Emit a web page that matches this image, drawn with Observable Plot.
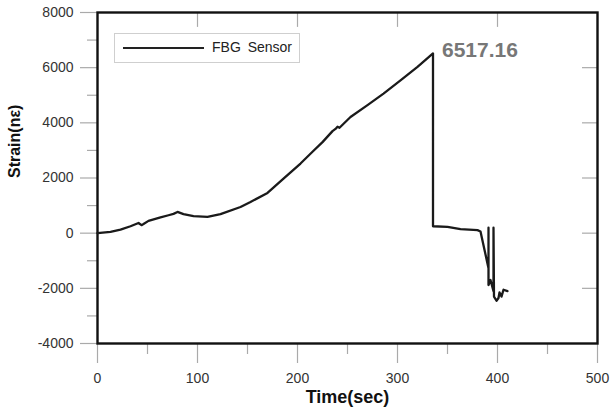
<!DOCTYPE html>
<html>
<head>
<meta charset="utf-8">
<script src="https://cdn.jsdelivr.net/npm/d3@7"></script>
<script src="https://cdn.jsdelivr.net/npm/@observablehq/plot@0.6"></script>
<style>
  html, body { margin: 0; padding: 0; background: #fff; }
  #chart { position: relative; width: 611px; height: 412px; }
  #legend {
    position: absolute; left: 114px; top: 33px; width: 186px; height: 30px;
    border: 1px solid #cfcfcf; background: #fff; box-sizing: border-box;
    font: 14px "Liberation Sans", Arial, sans-serif; color: #222;
  }
  #legend .swatch { position: absolute; left: 8px; top: 13px; width: 81px; height: 0; border-top: 2.5px solid #222; }
  #legend .label { position: absolute; left: 97px; top: 5px; word-spacing: 3px; }
</style>
</head>
<body>
<div id="chart"></div>
<script>
// FBG sensor strain record (time in seconds, strain)
const time = [0, 13, 23, 33, 41, 44, 46, 51, 63, 71, 76, 80, 86, 96, 110, 123, 143, 153, 170, 186,
  203, 215, 225, 235, 238, 240, 242, 253, 270, 286, 303, 320, 335.5, 335.5, 350, 363, 380, 383,
  391, 391, 391, 393, 396, 396, 396.5, 399, 401, 402, 404, 406, 410];
const strain = [0, 50, 130, 250, 370, 290, 330, 445, 570, 650, 700, 770, 690, 615, 590, 690, 950, 1130, 1460, 1980,
  2525, 2950, 3300, 3700, 3780, 3860, 3820, 4210, 4640, 5060, 5540, 6030, 6517.16, 250, 230, 145, 110, 60,
  -1270, 200, -1880, -1700, -2100, 200, -2300, -2450, -2350, -2150, -2300, -2050, -2100];

const peakLabel = "6517.16";
const xTicks = [0, 100, 200, 300, 400, 500];
const xMinor = [50, 150, 250, 350, 450];
const yTicks = [-4000, -2000, 0, 2000, 4000, 6000, 8000];
const yMinor = [-3000, -1000, 1000, 3000, 5000, 7000];
const rightTicks = [-2000, 0, 2000, 4000, 6000];
const topTicks = [100, 200, 300, 400];

const series = time.map((t, i) => ({t, v: strain[i]}));
const peakIndex = d3.maxIndex(strain);
const peak = [{t: time[peakIndex], v: strain[peakIndex]}];

const tickGray = "#aaa";
const font = '"Liberation Sans", Arial, sans-serif';
const plain = d => String(d);

const chart = Plot.plot({
  width: 611,
  height: 412,
  marginLeft: 97,
  marginRight: 14,
  marginTop: 12,
  marginBottom: 69,
  style: {fontFamily: font, fontSize: "14px", color: "#333", background: "#fff"},
  x: {domain: [0, 500]},
  y: {domain: [-4000, 8000]},
  marks: [
    // outer ticks with labels
    Plot.axisX(xTicks, {tickSize: 20, tickPadding: 10, stroke: tickGray, strokeWidth: 1.2, fill: "#333", label: null, fontSize: 14, tickFormat: plain}),
    Plot.axisX(xMinor, {tickSize: 11, stroke: tickGray, strokeWidth: 1.2, text: null, label: null}),
    Plot.axisY(yTicks, {tickSize: 17, tickPadding: 7, stroke: tickGray, strokeWidth: 1.2, fill: "#333", label: null, fontSize: 14, tickFormat: plain}),
    Plot.axisY(yMinor, {tickSize: 10, stroke: tickGray, strokeWidth: 1.2, text: null, label: null}),
    // inner ticks along the top and right edges
    Plot.ruleX(topTicks, {y1: 8000, y2: 7460, stroke: tickGray, strokeWidth: 1.2}),
    Plot.ruleY(rightTicks, {x1: 500, x2: 485, stroke: tickGray, strokeWidth: 1.2}),
    // axis titles
    Plot.text(["Time(sec)"], {frameAnchor: "bottom", dy: 59, fontWeight: "bold", fontSize: 18, fill: "#111"}),
    Plot.text(["Strain(nε)"], {frameAnchor: "left", dx: -83, dy: 0, rotate: -90, fontWeight: "bold", fontSize: 16, fill: "#111"}),
    Plot.frame({stroke: "#111", strokeWidth: 2.4}),
    Plot.line(series, {x: "t", y: "v", stroke: "#1a1a1a", strokeWidth: 2.3, curve: "linear"}),
    Plot.text(peak, {x: "t", y: "v", text: () => peakLabel, textAnchor: "start", dx: 9, dy: -3,
      fontWeight: "bold", fontSize: 21, fill: "#777"})
  ]
});

const host = document.getElementById("chart");
host.appendChild(chart);
const legend = document.createElement("div");
legend.id = "legend";
legend.innerHTML = '<div class="swatch"></div><div class="label">FBG Sensor</div>';
host.appendChild(legend);
</script>
</body>
</html>
